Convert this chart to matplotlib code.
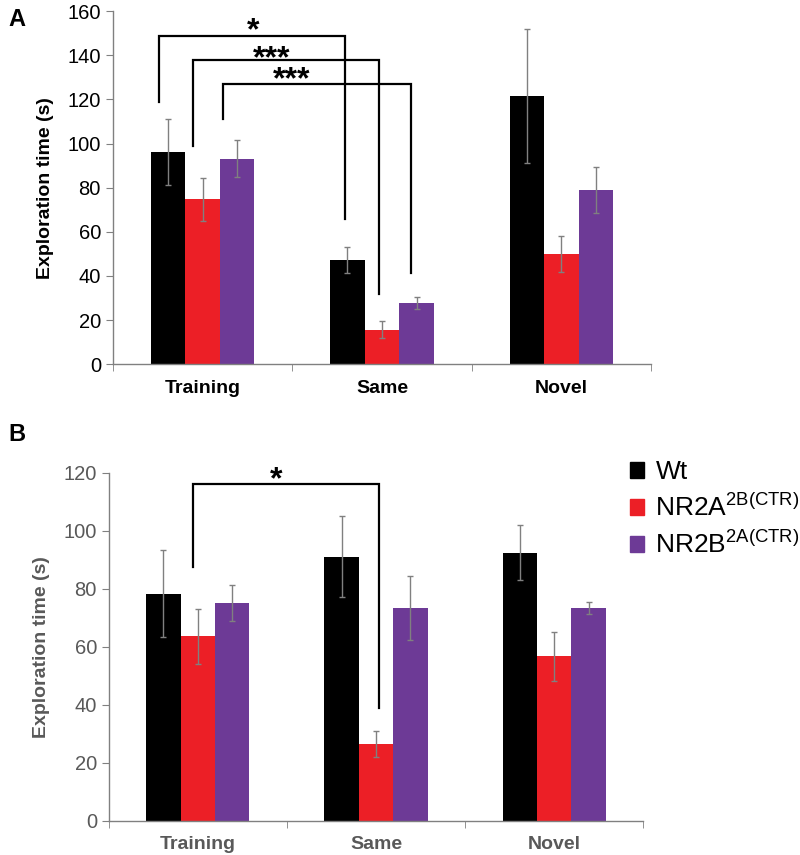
import matplotlib
matplotlib.use("Agg")
import matplotlib.pyplot as plt
import numpy as np
from matplotlib.patches import Patch

plt.rcParams['font.family'] = ['Liberation Sans', 'DejaVu Sans']
plt.rcParams['mathtext.fontset'] = 'custom'
plt.rcParams['mathtext.rm'] = 'Liberation Sans'

categories = ["Training", "Same", "Novel"]
groups = ["Wt", "NR2A$\\mathregular{^{2B(CTR)}}$", "NR2B$\\mathregular{^{2A(CTR)}}$"]
colors = ["#000000", "#EC1F26", "#6D3A96"]

# Panel A
a_wt = [96.2, 47.1, 121.5]
a_wt_err = [15.0, 5.8, 30.4]
a_2a = [74.8, 15.7, 49.9]
a_2a_err = [9.7, 4.0, 8.3]
a_2b = [93.1, 27.8, 79.0]
a_2b_err = [8.4, 2.7, 10.4]

# Panel B
b_wt = [78.2, 91.0, 92.4]
b_wt_err = [15.0, 14.0, 9.5]
b_2a = [63.6, 26.4, 56.7]
b_2a_err = [9.4, 4.6, 8.5]
b_2b = [75.0, 73.4, 73.4]
b_2b_err = [6.2, 11.0, 2.1]

# significance brackets:
# (x_left, y_left_bottom, x_right, y_right_bottom, y_top, star_x, star_y_center, label)
a_brackets = [
    (-0.243, 118.9, 0.792, 66.0, 148.7, 0.282, 154.0, "*"),
    (-0.055, 98.8, 0.986, 32.0, 137.7, 0.387, 141.4, "***"),
    (0.113, 110.9, 1.159, 41.4, 126.8, 0.494, 132.0, "***"),
]
b_brackets = [
    (-0.026, 87.6, 1.019, 38.8, 116.0, 0.440, 119.8, "*"),
]

fig = plt.figure(figsize=(8, 8.55), dpi=100)
axA = fig.add_axes([0.141, 0.574, 0.673, 0.413])
axB = fig.add_axes([0.136, 0.0401, 0.668, 0.4070])

width = 0.193
x = np.arange(len(categories))
STAR_PT = 23


def draw(ax, series, errs, ymax, brackets, txtcolor):
    for i, (vals, er) in enumerate(zip(series, errs)):
        pos = x + (i - 1) * width
        ax.bar(pos, vals, width=width, color=colors[i], label=groups[i], zorder=2)
        ax.errorbar(pos, vals, yerr=er, fmt='none', ecolor='#808080', elinewidth=1,
                    capsize=2, capthick=1, zorder=3)
    ax.set_xlim(-0.5, 2.5)
    ax.set_ylim(0, ymax)
    ax.set_yticks(np.arange(0, ymax + 1, 20))
    ax.set_xticks(x)
    ax.set_xticklabels(categories, fontsize=14, fontweight='bold', color=txtcolor)
    ax.set_xticks([-0.5, 0.5, 1.5, 2.5], minor=True)
    ax.tick_params(axis='x', which='major', length=0, pad=11)
    ax.tick_params(axis='x', which='minor', length=5, direction='out', color='#808080')
    ax.tick_params(axis='y', length=5, direction='out', color='#808080', labelsize=14.5,
                   labelcolor=txtcolor)
    for s in ['top', 'right']:
        ax.spines[s].set_visible(False)
    for s in ['left', 'bottom']:
        ax.spines[s].set_color('#808080')
        ax.spines[s].set_linewidth(1)
    ax.set_ylabel("Exploration time (s)", fontsize=14, fontweight='bold', color=txtcolor,
                  labelpad=10)
    # pixels per data unit to place asterisk glyph centre
    bbox = ax.get_position()
    ppu = bbox.height * fig.get_figheight() * fig.dpi / ymax
    em_px = STAR_PT / 72 * fig.dpi
    for (xl, yl, xr, yr, yt, sx, sy, lab) in brackets:
        ax.plot([xl, xl, xr, xr], [yl, yt, yt, yr], color='black', lw=1.6,
                solid_joinstyle='miter', zorder=4, clip_on=False)
        ax.text(sx, sy - 0.47 * em_px / ppu, lab, ha='center', va='baseline',
                fontsize=STAR_PT, fontweight='bold', clip_on=False)


draw(axA, [a_wt, a_2a, a_2b], [a_wt_err, a_2a_err, a_2b_err], 160, a_brackets, 'black')
draw(axB, [b_wt, b_2a, b_2b], [b_wt_err, b_2a_err, b_2b_err], 120, b_brackets, '#595959')

fig.text(0.010, 0.991, "A", fontsize=17, fontweight='bold', va='top')
fig.text(0.010, 0.505, "B", fontsize=17, fontweight='bold', va='top')

handles = [Patch(color=c) for c in colors]
axB.legend(handles, groups, loc='upper left', bbox_to_anchor=(0.975, 1.036), frameon=False,
           fontsize=19, handlelength=0.55, handleheight=0.55, handletextpad=0.42,
           labelspacing=0.37, borderaxespad=0, borderpad=0)

fig.savefig("out.png", dpi=100)
